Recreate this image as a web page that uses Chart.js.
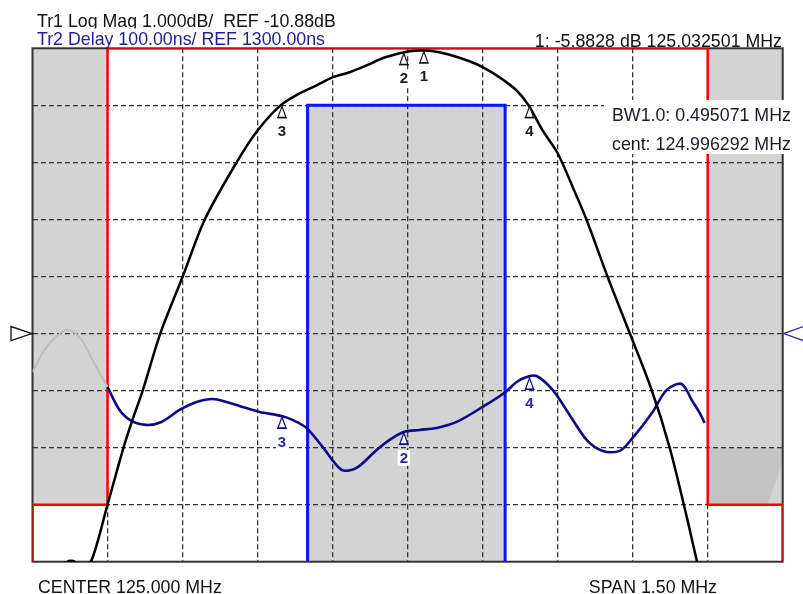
<!DOCTYPE html>
<html>
<head>
<meta charset="utf-8">
<script src="https://cdn.jsdelivr.net/npm/chart.js@4.4.1/dist/chart.umd.min.js"></script>
<style>
html,body{margin:0;padding:0;background:#fff;}
canvas{display:block;}
</style>
</head>
<body>
<canvas id="c" width="803" height="594"></canvas>
<script>
// ---- axis settings ----
const xMin = 124.25, xMax = 125.75;           // MHz (center 125, span 1.5)
const tr1Min = -14.88, tr1Max = -5.88, tr1Ref = -10.88;   // dB
const tr2Min = 900, tr2Max = 1800, tr2Ref = 1300;         // ns
const xGrid = [124.40,124.55,124.70,124.85,125.00,125.15,125.30,125.45,125.60];
const yGrid = [-6.88,-7.88,-8.88,-9.88,-10.88,-11.88,-12.88,-13.88];

// ---- Tr1 Log Mag trace ----
const tr1Freq = [124.308,124.320,124.334,124.348,124.370,124.400,124.432,124.450,124.470,124.506,124.550,124.594,124.658,124.700,124.746,124.784,124.818,124.850,124.884,124.918,124.950,124.984,125.004,125.030,125.058,125.084,125.118,125.150,125.184,125.218,125.242,125.270,125.300,125.330,125.358,125.400,125.444,125.488,125.524,125.558,125.578,125.588];
const tr1Mag = [-15.11,-14.88,-14.88,-15.09,-14.81,-13.88,-12.88,-12.39,-11.89,-10.87,-9.89,-8.89,-7.88,-7.32,-6.88,-6.67,-6.53,-6.39,-6.30,-6.18,-6.055,-5.968,-5.93,-5.92,-5.94,-5.994,-6.09,-6.21,-6.39,-6.62,-6.88,-7.32,-7.72,-8.31,-8.89,-9.89,-10.87,-11.87,-12.88,-14.09,-14.85,-15.16];

// ---- Tr2 Delay trace ----
const tr2GrayFreq = [124.250,124.270,124.290,124.318,124.344,124.370,124.400];
const tr2GrayDelay = [1232.6,1265.9,1288.6,1306.1,1293.9,1253.6,1206.3];
const tr2Freq = [124.400,124.424,124.448,124.478,124.508,124.544,124.578,124.610,124.638,124.670,124.704,124.748,124.770,124.798,124.830,124.868,124.898,124.938,124.964,124.992,125.024,125.058,125.098,125.150,125.196,125.218,125.238,125.258,125.290,125.324,125.358,125.390,125.424,125.450,125.490,125.518,125.548,125.568,125.584,125.594];
const tr2Delay = [1206.3,1166.0,1146.8,1139.8,1145.0,1166.0,1180.0,1185.3,1180.0,1171.3,1162.5,1155.5,1148.5,1134.5,1101.2,1061.0,1064.5,1096.0,1113.5,1127.5,1131.0,1134.5,1145.0,1171.3,1197.6,1215.1,1223.8,1225.6,1201.1,1157.3,1113.5,1094.2,1094.2,1117.0,1162.5,1201.1,1211.6,1183.5,1160.8,1143.3];

// ---- limit lines ----
const limFreq = [124.25,124.25,124.40,124.40,125.60,125.60,125.75,125.75];
const limMag = [-14.88,-13.88,-13.88,-5.88,-5.88,-13.88,-13.88,-14.88];
const stopLeftFreq = [124.25,124.40], stopRightFreq = [125.60,125.75], stopMag = [-13.88,-13.88];
const shadeFreq = [125.60,125.72,125.75], shadeMag = [-13.88,-13.88,-13.13], shadeTop = -12.88;
const dlyLimFreq = [124.80,124.80,125.195,125.195];
const dlyLimVal = [900,1700,1700,900];
const dlyBoxFreq = [124.80,125.195], dlyBoxVal = [1700,1700];

// ---- markers ----
const tr1MkFreq = [125.0325,124.9925,124.7488,125.2438];
const tr1MkVal = [-5.92,-5.95,-6.88,-6.88];
const tr1MkLabel = ['1','2','3','4'];
const tr2MkFreq = [124.9925,124.7488,125.2438];
const tr2MkVal = [1127.5,1155.5,1223.8];
const tr2MkLabel = ['2','3','4'];

// ---- texts ----
const header1 = 'Tr1 Log Mag 1.000dB/  REF -10.88dB';
const header2 = 'Tr2 Delay 100.00ns/ REF 1300.00ns';
const mkReadout = '1: -5.8828 dB 125.032501 MHz';
const bwText = 'BW1.0: 0.495071 MHz';
const centText = 'cent: 124.996292 MHz';
const footLeft = 'CENTER 125.000 MHz';
const footRight = 'SPAN 1.50 MHz';

const pts = (xs, ys) => xs.map((x, i) => ({x: x, y: ys[i]}));
const FONT = '"Liberation Sans", Arial, sans-serif';
const GRAY = '#d3d3d3';

const framePlugin = {
  id: 'frame',
  beforeDatasetsDraw(chart) {
    const a = chart.chartArea, ctx = chart.ctx;
    ctx.save();
    ctx.strokeStyle = '#333';
    ctx.lineWidth = 2;
    ctx.strokeRect(a.left, a.top, a.right - a.left, a.bottom - a.top);
    ctx.restore();
  }
};

function drawMarker(ctx, px, py, label, stroke, textColor) {
  ctx.save();
  ctx.beginPath();
  ctx.moveTo(px, py + 1);
  ctx.lineTo(px - 4, py + 12);
  ctx.lineTo(px + 4, py + 12);
  ctx.closePath();
  ctx.fillStyle = '#fff';
  ctx.fill();
  ctx.strokeStyle = stroke;
  ctx.lineWidth = 1.2;
  ctx.stroke();
  ctx.beginPath();
  ctx.moveTo(px - 5, py + 12.5);
  ctx.lineTo(px + 5, py + 12.5);
  ctx.stroke();
  ctx.font = 'bold 15px ' + FONT;
  ctx.textAlign = 'center';
  ctx.textBaseline = 'middle';
  const w = ctx.measureText(label).width;
  ctx.fillStyle = '#fff';
  ctx.fillRect(px - w / 2 - 2, py + 18, w + 4, 16);
  ctx.fillStyle = textColor;
  ctx.fillText(label, px, py + 26.5);
  ctx.restore();
}

const markerPlugin = {
  id: 'markers',
  afterDatasetsDraw(chart) {
    const ctx = chart.ctx, sx = chart.scales.x, sy = chart.scales.y, s2 = chart.scales.y2;
    tr2MkFreq.forEach((f, i) => drawMarker(ctx, sx.getPixelForValue(f), s2.getPixelForValue(tr2MkVal[i]), tr2MkLabel[i], '#101088', '#2a2aa0'));
    tr1MkFreq.forEach((f, i) => drawMarker(ctx, sx.getPixelForValue(f), sy.getPixelForValue(tr1MkVal[i]), tr1MkLabel[i], '#111', '#1a1a1a'));
  }
};

const textPlugin = {
  id: 'texts',
  afterDraw(chart) {
    const ctx = chart.ctx, a = chart.chartArea, sy = chart.scales.y, s2 = chart.scales.y2;
    ctx.save();
    ctx.font = '17.8px ' + FONT;
    ctx.textBaseline = 'alphabetic';
    ctx.textAlign = 'left';
    ctx.fillStyle = '#111';
    ctx.fillText(header1, 37, 26.5);
    ctx.fillStyle = '#fff';
    ctx.fillRect(34, 28.5, 300, 18.5);
    ctx.fillStyle = '#1e1e96';
    ctx.fillText(header2, 37, 45);
    ctx.fillStyle = '#111';
    ctx.textAlign = 'right';
    ctx.fillText(mkReadout, 782, 46.5);
    // readout box
    ctx.fillStyle = '#fff';
    ctx.fillRect(604, 100, 199, 54);
    ctx.fillStyle = '#1a1a2a';
    ctx.textAlign = 'left';
    ctx.fillText(bwText, 612, 121);
    ctx.fillText(centText, 612, 150);
    ctx.fillStyle = '#111';
    ctx.fillText(footLeft, 38, 592.5);
    ctx.textAlign = 'right';
    ctx.fillText(footRight, 717, 592.5);
    // reference level triangles
    const r1 = sy.getPixelForValue(tr1Ref);
    ctx.lineWidth = 1.3;
    ctx.strokeStyle = '#111';
    ctx.fillStyle = '#fff';
    ctx.beginPath();
    ctx.moveTo(a.left - 0.5, r1);
    ctx.lineTo(11, r1 - 7);
    ctx.lineTo(11, r1 + 7);
    ctx.closePath();
    ctx.fill(); ctx.stroke();
    const r2 = s2.getPixelForValue(tr2Ref);
    ctx.strokeStyle = '#2a2ab0';
    ctx.beginPath();
    ctx.moveTo(806, r2 - 8);
    ctx.lineTo(a.right + 1, r2);
    ctx.lineTo(806, r2 + 8);
    ctx.stroke();
    ctx.restore();
  }
};

const gridScale = (min, max, grid, pos) => ({
  type: 'linear', position: pos, min: min, max: max, bounds: 'data',
  afterBuildTicks: s => { s.ticks = grid.map(v => ({value: v})); },
  ticks: {display: false},
  grid: {color: '#333', lineWidth: 1.3, drawTicks: false},
  border: {display: false, dash: [5, 3]}
});

new Chart(document.getElementById('c'), {
  type: 'line',
  data: {
    datasets: [
      {data: pts(tr1Freq, tr1Mag), yAxisID: 'y', borderColor: '#000', borderWidth: 2.5, tension: 0.3},
      {data: pts(tr2Freq, tr2Delay), yAxisID: 'y2', borderColor: '#0b0b86', borderWidth: 2.6, tension: 0.3},
      {data: pts(tr2GrayFreq, tr2GrayDelay), yAxisID: 'y2', borderColor: '#bdbdbd', borderWidth: 2, tension: 0.3},
      {data: pts(limFreq, limMag), yAxisID: 'y', borderColor: '#ff0000', borderWidth: 2.5},
      {data: pts(dlyLimFreq, dlyLimVal), yAxisID: 'y2', borderColor: '#0a14ff', borderWidth: 3},
      {data: pts(shadeFreq, shadeMag), yAxisID: 'y', borderWidth: 0, borderColor: 'rgba(0,0,0,0)', backgroundColor: '#c4c4c4', fill: {value: shadeTop}},
      {data: pts(stopLeftFreq, stopMag), yAxisID: 'y', borderWidth: 0, borderColor: 'rgba(0,0,0,0)', backgroundColor: GRAY, fill: 'end'},
      {data: pts(stopRightFreq, stopMag), yAxisID: 'y', borderWidth: 0, borderColor: 'rgba(0,0,0,0)', backgroundColor: GRAY, fill: 'end'},
      {data: pts(dlyBoxFreq, dlyBoxVal), yAxisID: 'y2', borderWidth: 0, borderColor: 'rgba(0,0,0,0)', backgroundColor: GRAY, fill: 'start'}
    ]
  },
  options: {
    responsive: false,
    animation: false,
    devicePixelRatio: 1,
    layout: {padding: {left: 32.5, top: 48.3, right: 20.3, bottom: 32.3}},
    elements: {point: {radius: 0, hoverRadius: 0}, line: {fill: false}},
    plugins: {legend: {display: false}, tooltip: {enabled: false}, filler: {drawTime: 'beforeDraw'}},
    scales: {
      x: gridScale(xMin, xMax, xGrid, 'bottom'),
      y: gridScale(tr1Min, tr1Max, yGrid, 'left'),
      y2: {type: 'linear', display: false, min: tr2Min, max: tr2Max}
    }
  },
  plugins: [framePlugin, markerPlugin, textPlugin]
});
</script>
</body>
</html>
